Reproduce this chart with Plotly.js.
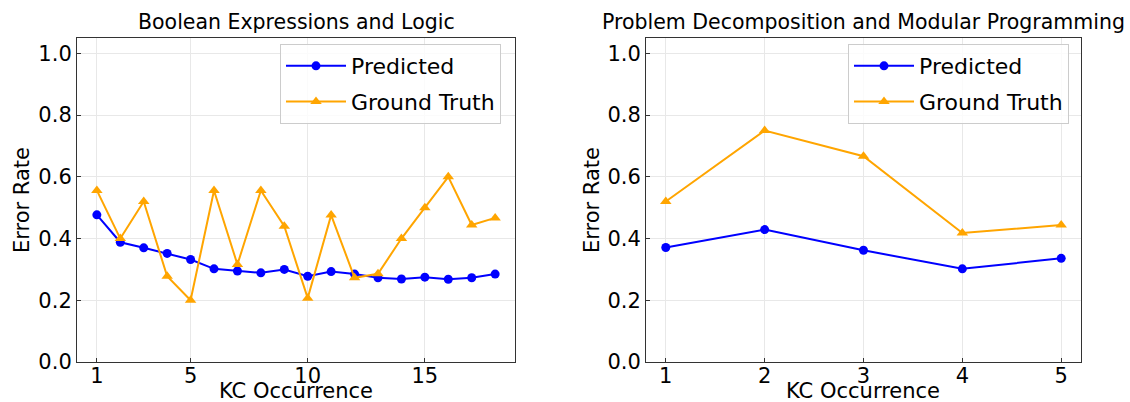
<!DOCTYPE html>
<html>
<head>
<meta charset="utf-8">
<script src="https://cdn.plot.ly/plotly-3.0.1.min.js"></script>
<style>html,body{margin:0;padding:0;background:#fff;}#chart{width:1130px;height:402px;}</style>
</head>
<body>
<div id="chart"></div>
<script>
// Left panel: Boolean Expressions and Logic
const leftTitle = "Boolean Expressions and Logic";
const leftX = [1,2,3,4,5,6,7,8,9,10,11,12,13,14,15,16,17,18];
const leftPredicted = [0.477,0.388,0.370,0.352,0.332,0.302,0.295,0.289,0.300,0.278,0.293,0.285,0.273,0.269,0.275,0.268,0.273,0.285];
const leftTruth = [0.556,0.400,0.520,0.278,0.200,0.556,0.316,0.556,0.440,0.207,0.476,0.273,0.286,0.400,0.500,0.600,0.444,0.467];
const leftTicks = [1,5,10,15];

// Right panel: Problem Decomposition and Modular Programming
const rightTitle = "Problem Decomposition and Modular Programming";
const rightX = [1,2,3,4,5];
const rightPredicted = [0.371,0.429,0.362,0.302,0.336];
const rightTruth = [0.520,0.750,0.667,0.418,0.444];
const rightTicks = [1,2,3,4,5];

const yTicks = [0.0,0.2,0.4,0.6,0.8,1.0];
const yTickText = ["0.0","0.2","0.4","0.6","0.8","1.0"];
const xTitle = "KC Occurrence";
const yTitle = "Error Rate";

const BLUE = "#0000ff", ORANGE = "#ffa500";
const FONT = "DejaVu Sans, sans-serif";
const W = 1130, H = 402;

function tr(x, y, name, color, symbol, size, xa, ya, leg, grp) {
  return {
    x: x, y: y, name: name, type: "scatter", mode: "lines+markers",
    line: {color: color, width: 2},
    marker: {color: color, symbol: symbol, size: size},
    xaxis: xa, yaxis: ya, legend: leg, legendgroup: grp, showlegend: true
  };
}

const data = [
  tr(leftX, leftPredicted, "Predicted", BLUE, "circle", 9, "x", "y", "legend", "a"),
  tr(leftX, leftTruth, "Ground Truth", ORANGE, "triangle-up", 10, "x", "y", "legend", "b"),
  tr(rightX, rightPredicted, "Predicted", BLUE, "circle", 9, "x2", "y2", "legend2", "c"),
  tr(rightX, rightTruth, "Ground Truth", ORANGE, "triangle-up", 10, "x2", "y2", "legend2", "d")
];

function xax(domain, range, ticks, anchor) {
  return {
    domain: domain, range: range, anchor: anchor,
    tickmode: "array", tickvals: ticks, ticktext: ticks.map(String),
    ticks: "inside", ticklen: 4, tickcolor: "#333", tickwidth: 1,
    ticklabelstandoff: -5,
    showgrid: true, gridcolor: "#e8e8e8", gridwidth: 1,
    showline: true, mirror: true, linecolor: "#333", linewidth: 1,
    zeroline: false,
    tickfont: {family: FONT, size: 21, color: "#000"}
  };
}
function yax(anchor) {
  return {
    domain: [0.0995, 0.9055], range: [0, 1.05], anchor: anchor,
    tickmode: "array", tickvals: yTicks, ticktext: yTickText,
    ticks: "inside", ticklen: 4, tickcolor: "#333", tickwidth: 1,
    showgrid: true, gridcolor: "#e8e8e8", gridwidth: 1,
    showline: true, mirror: true, linecolor: "#333", linewidth: 1,
    zeroline: false,
    tickfont: {family: FONT, size: 21, color: "#000"}
  };
}
function leg(x) {
  return {
    x: x, y: 0.8905, xanchor: "left", yanchor: "top",
    bgcolor: "rgba(255,255,255,0.8)", bordercolor: "#cccccc", borderwidth: 1,
    font: {family: FONT, size: 22, color: "#000"},
    traceorder: "grouped", tracegroupgap: 4, itemwidth: 60
  };
}

const lx = [0.0681, 0.4558], rx = [0.5717, 0.9566];
function ann(text, xp, yp, size, angle) {
  return {text: text, x: xp / W, y: (H - yp) / H, xref: "paper", yref: "paper", showarrow: false,
          font: {family: FONT, size: size, color: "#000"}, xanchor: "center", yanchor: "middle",
          textangle: angle || 0};
}

const layout = {
  width: W, height: H,
  margin: {l: 0, r: 0, t: 0, b: 0},
  paper_bgcolor: "#fff", plot_bgcolor: "#fff",
  font: {family: FONT, color: "#000"},
  xaxis: xax(lx, [0.15, 18.85], leftTicks, "y"),
  yaxis: yax("x"),
  xaxis2: xax(rx, [0.8, 5.2], rightTicks, "y2"),
  yaxis2: yax("x2"),
  legend: leg(280 / W),
  legend2: leg(848 / W),
  annotations: [
    ann(leftTitle, (lx[0] + lx[1]) / 2 * W, 22, 20.5),
    ann(rightTitle, (rx[0] + rx[1]) / 2 * W, 22, 20.5),
    ann(xTitle, (lx[0] + lx[1]) / 2 * W, 391, 21),
    ann(xTitle, (rx[0] + rx[1]) / 2 * W, 391, 21),
    ann(yTitle, 22, 200, 21, -90),
    ann(yTitle, 592, 200, 21, -90)
  ]
};

Plotly.newPlot("chart", data, layout, {displayModeBar: false, staticPlot: true});
</script>
</body>
</html>
